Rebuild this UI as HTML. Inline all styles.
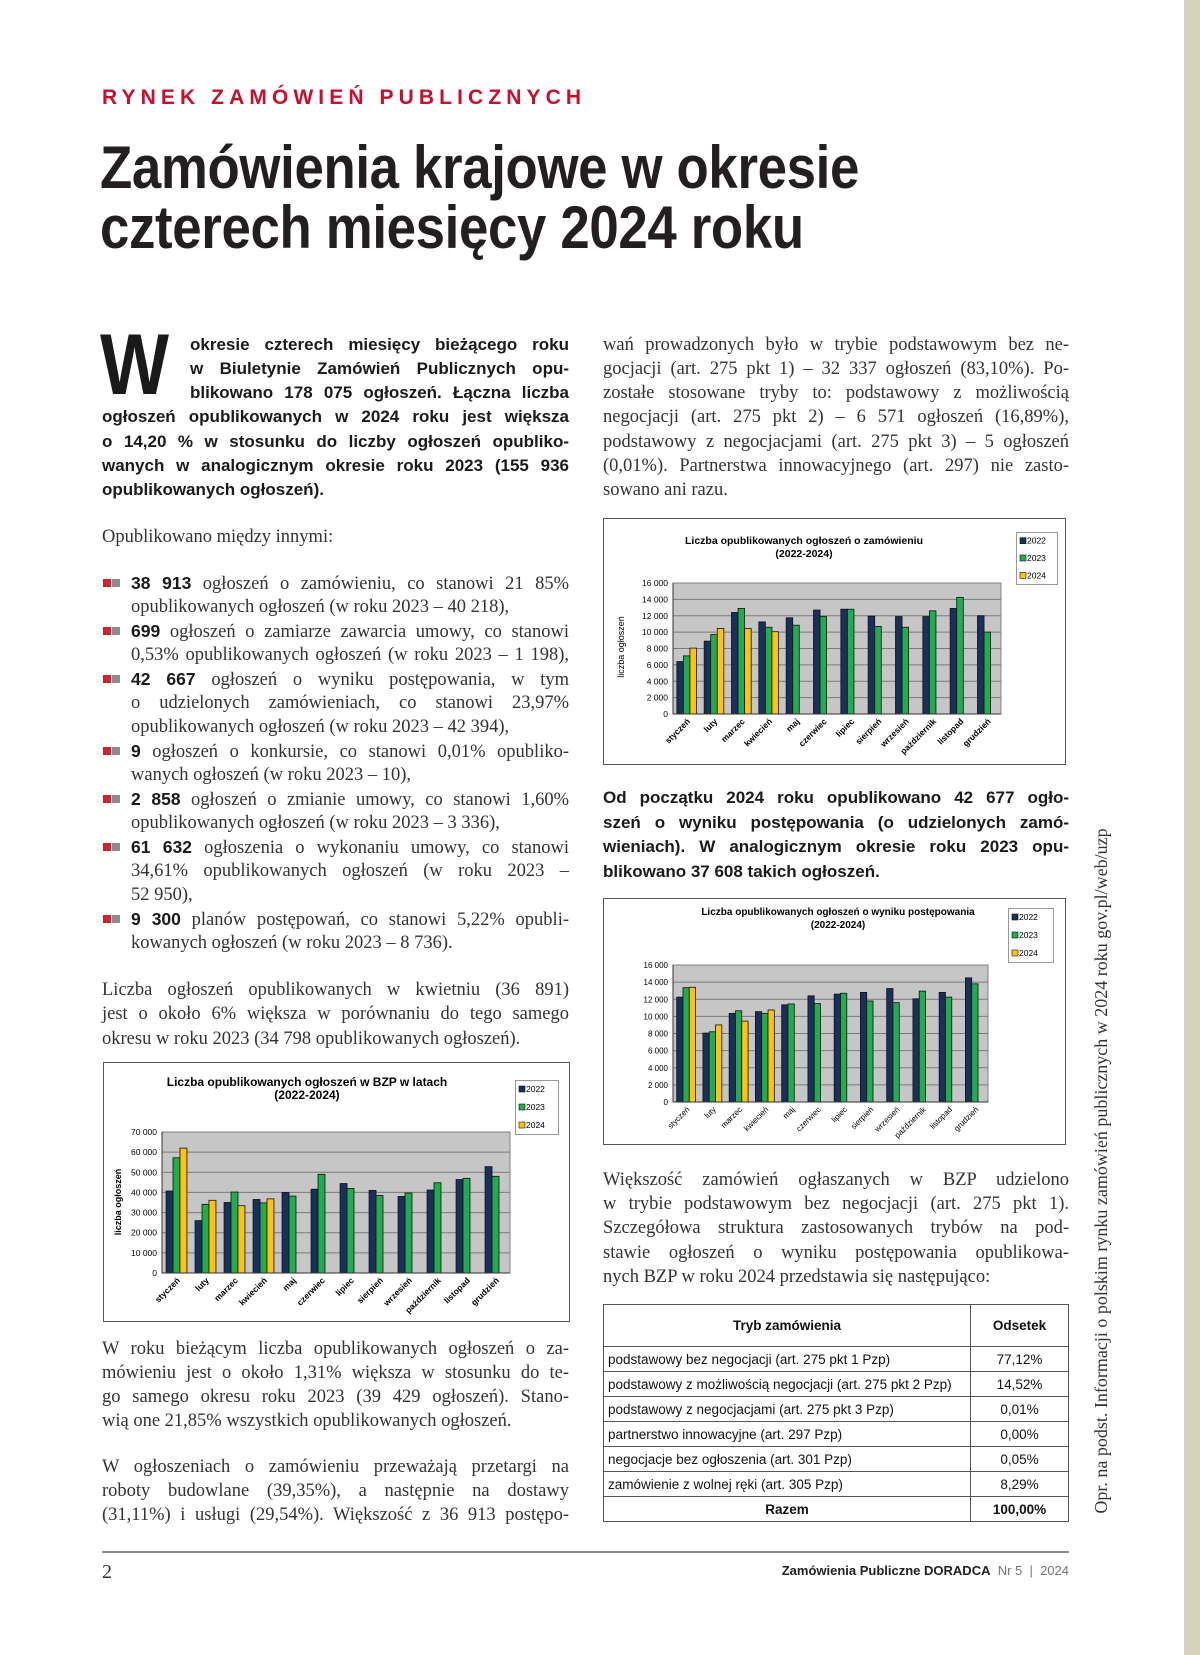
<!DOCTYPE html>
<html><head><meta charset="utf-8">
<style>
html,body{margin:0;padding:0}
body{width:1200px;height:1655px;position:relative;background:#fff;overflow:hidden;color:#2b2b2b}
.strip{position:absolute;left:1184px;top:0;width:16px;height:1655px;background:#d6d3bc}
.kick{position:absolute;left:102px;top:86px;font:bold 21px "Liberation Sans",sans-serif;letter-spacing:5.1px;color:#c8102e;white-space:nowrap}
.title{position:absolute;left:100px;top:138px;font:bold 60px/60px "Liberation Sans",sans-serif;color:#231f20;letter-spacing:-0.4px;transform:scaleX(0.88);transform-origin:0 0;white-space:nowrap}
.l{position:absolute;height:24px;line-height:24px;text-align:justify;text-align-last:justify;font-family:"Liberation Serif",serif;font-size:18.5px;color:#333}
.e{text-align-last:left}
.b{font-family:"Liberation Sans",sans-serif;font-weight:bold;font-size:17px;color:#1a1a1a}
.L{left:102px;width:467px}
.R{left:603px;width:466px}
.I{left:190px;width:379px}
.B{left:131px;width:438px}
.n{font-family:"Liberation Sans",sans-serif;font-weight:bold;font-size:17.5px;color:#1a1a1a}
.bul{position:absolute;left:103px;width:8px;height:8px;background:#d4202c}
.bul:after{content:"";position:absolute;left:9px;top:0;width:8px;height:8px;background:#8c8c8c}
.cap{position:absolute;left:100px;top:322px;font:bold 86px/86px "Liberation Sans",sans-serif;color:#1a1a1a;transform:scaleX(0.85);transform-origin:0 0}
table{position:absolute;left:603px;top:1304px;width:466px;border-collapse:collapse;font-family:"Liberation Sans",sans-serif;font-size:13.5px;color:#111}
td{border:1px solid #555;height:24px;padding:0 0 0 4px;white-space:nowrap}
td.p{text-align:center;padding:0}
.vert{position:absolute;left:753px;top:1159px;width:700px;height:24px;line-height:24px;text-align:center;transform:rotate(-90deg);font:18px "Liberation Serif",serif;color:#333;white-space:nowrap}
svg{position:absolute;left:0;top:0}
svg text{font-family:"Liberation Sans",sans-serif}
</style></head><body>
<div class="strip"></div>
<div class="kick">RYNEK ZAMÓWIEŃ PUBLICZNYCH</div>
<div class="title">Zamówienia krajowe w okresie<br>czterech miesięcy 2024 roku</div>

<div class="cap">W</div>
<div class="l b I" style="top:333px">okresie czterech miesięcy bieżącego roku</div>
<div class="l b I" style="top:357px">w Biuletynie Zamówień Publicznych opu-</div>
<div class="l b I" style="top:381px">blikowano 178 075 ogłoszeń. Łączna liczba</div>
<div class="l b L" style="top:405px">ogłoszeń opublikowanych w 2024 roku jest większa</div>
<div class="l b L" style="top:430px">o 14,20 % w stosunku do liczby ogłoszeń opubliko-</div>
<div class="l b L" style="top:454px">wanych w analogicznym okresie roku 2023 (155 936</div>
<div class="l b L e" style="top:478px">opublikowanych ogłoszeń).</div>

<div class="l L e" style="top:525px">Opublikowano między innymi:</div>

<div class="bul" style="top:579px"></div>
<div class="l B" style="top:571px"><span class="n">38 913</span> ogłoszeń o zamówieniu, co stanowi 21 85%</div>
<div class="l B e" style="top:595px">opublikowanych ogłoszeń (w roku 2023 – 40 218),</div>
<div class="bul" style="top:627px"></div>
<div class="l B" style="top:619px"><span class="n">699</span> ogłoszeń o zamiarze zawarcia umowy, co stanowi</div>
<div class="l B" style="top:643px">0,53% opublikowanych ogłoszeń (w roku 2023 – 1 198),</div>
<div class="bul" style="top:675px"></div>
<div class="l B" style="top:667px"><span class="n">42 667</span> ogłoszeń o wyniku postępowania, w tym</div>
<div class="l B" style="top:691px">o udzielonych zamówieniach, co stanowi 23,97%</div>
<div class="l B e" style="top:715px">opublikowanych ogłoszeń (w roku 2023 – 42 394),</div>
<div class="bul" style="top:747px"></div>
<div class="l B" style="top:739px"><span class="n">9</span> ogłoszeń o konkursie, co stanowi 0,01% opubliko-</div>
<div class="l B e" style="top:763px">wanych ogłoszeń (w roku 2023 – 10),</div>
<div class="bul" style="top:795px"></div>
<div class="l B" style="top:787px"><span class="n">2 858</span> ogłoszeń o zmianie umowy, co stanowi 1,60%</div>
<div class="l B e" style="top:811px">opublikowanych ogłoszeń (w roku 2023 – 3 336),</div>
<div class="bul" style="top:843px"></div>
<div class="l B" style="top:835px"><span class="n">61 632</span> ogłoszenia o wykonaniu umowy, co stanowi</div>
<div class="l B" style="top:859px">34,61% opublikowanych ogłoszeń (w roku 2023 –</div>
<div class="l B e" style="top:883px">52 950),</div>
<div class="bul" style="top:915px"></div>
<div class="l B" style="top:907px"><span class="n">9 300</span> planów postępowań, co stanowi 5,22% opubli-</div>
<div class="l B e" style="top:931px">kowanych ogłoszeń (w roku 2023 – 8 736).</div>

<div class="l L" style="top:978px">Liczba ogłoszeń opublikowanych w kwietniu (36 891)</div>
<div class="l L" style="top:1002px">jest o około 6% większa w porównaniu do tego samego</div>
<div class="l L e" style="top:1027px">okresu w roku 2023 (34 798 opublikowanych ogłoszeń).</div>

<div class="l L" style="top:1337px">W roku bieżącym liczba opublikowanych ogłoszeń o za-</div>
<div class="l L" style="top:1361px">mówieniu jest o około 1,31% większa w stosunku do te-</div>
<div class="l L" style="top:1385px">go samego okresu roku 2023 (39 429 ogłoszeń). Stano-</div>
<div class="l L e" style="top:1409px">wią one 21,85% wszystkich opublikowanych ogłoszeń.</div>

<div class="l L" style="top:1455px">W ogłoszeniach o zamówieniu przeważają przetargi na</div>
<div class="l L" style="top:1479px">roboty budowlane (39,35%), a następnie na dostawy</div>
<div class="l L" style="top:1503px">(31,11%) i usługi (29,54%). Większość z 36 913 postępo-</div>

<div class="l R" style="top:333px">wań prowadzonych było w trybie podstawowym bez ne-</div>
<div class="l R" style="top:357px">gocjacji (art. 275 pkt 1) – 32 337 ogłoszeń (83,10%). Po-</div>
<div class="l R" style="top:381px">zostałe stosowane tryby to: podstawowy z możliwością</div>
<div class="l R" style="top:405px">negocjacji (art. 275 pkt 2) – 6 571 ogłoszeń (16,89%),</div>
<div class="l R" style="top:430px">podstawowy z negocjacjami (art. 275 pkt 3) – 5 ogłoszeń</div>
<div class="l R" style="top:454px">(0,01%). Partnerstwa innowacyjnego (art. 297) nie zasto-</div>
<div class="l R e" style="top:478px">sowano ani razu.</div>

<div class="l b R" style="top:786px">Od początku 2024 roku opublikowano 42 677 ogło-</div>
<div class="l b R" style="top:811px">szeń o wyniku postępowania (o udzielonych zamó-</div>
<div class="l b R" style="top:835px">wieniach). W analogicznym okresie roku 2023 opu-</div>
<div class="l b R e" style="top:860px">blikowano 37 608 takich ogłoszeń.</div>

<div class="l R" style="top:1168px">Większość zamówień ogłaszanych w BZP udzielono</div>
<div class="l R" style="top:1192px">w trybie podstawowym bez negocjacji (art. 275 pkt 1).</div>
<div class="l R" style="top:1216px">Szczegółowa struktura zastosowanych trybów na pod-</div>
<div class="l R" style="top:1241px">stawie ogłoszeń o wyniku postępowania opublikowa-</div>
<div class="l R e" style="top:1265px">nych BZP w roku 2024 przedstawia się następująco:</div>

<table>
<tr><td class="p" style="height:41px;font-weight:bold">Tryb zamówienia</td><td class="p" style="width:97px;font-weight:bold">Odsetek</td></tr>
<tr><td>podstawowy bez negocjacji (art. 275 pkt 1 Pzp)</td><td class="p">77,12%</td></tr>
<tr><td>podstawowy z możliwością negocjacji (art. 275 pkt 2 Pzp)</td><td class="p">14,52%</td></tr>
<tr><td>podstawowy z negocjacjami (art. 275 pkt 3 Pzp)</td><td class="p">0,01%</td></tr>
<tr><td>partnerstwo innowacyjne (art. 297 Pzp)</td><td class="p">0,00%</td></tr>
<tr><td>negocjacje bez ogłoszenia (art. 301 Pzp)</td><td class="p">0,05%</td></tr>
<tr><td>zamówienie z wolnej ręki (art. 305 Pzp)</td><td class="p">8,29%</td></tr>
<tr><td class="p" style="font-weight:bold">Razem</td><td class="p" style="font-weight:bold">100,00%</td></tr>
</table>

<div class="vert">Opr. na podst. Informacji o polskim rynku zamówień publicznych w 2024 roku gov.pl/web/uzp</div>

<div style="position:absolute;left:102px;top:1551px;width:967px;height:2px;background:#8a8a8a"></div>
<div style="position:absolute;left:102px;top:1561px;font:20px 'Liberation Serif',serif;color:#333">2</div>
<div style="position:absolute;right:131px;top:1563px;font:13px 'Liberation Sans',sans-serif;color:#777;white-space:nowrap"><b style="color:#222">Zamówienia Publiczne DORADCA</b> &nbsp;Nr 5 &nbsp;|&nbsp; 2024</div>

<svg id="ov" width="1200" height="1655" viewBox="0 0 1200 1655">
<rect x="603.5" y="518.5" width="462" height="246" fill="#fff" stroke="#555"/>
<text x="804" y="544" font-size="10.5" font-weight="bold" text-anchor="middle">Liczba opublikowanych ogłoszeń o zamówieniu</text>
<text x="804" y="557" font-size="10.5" font-weight="bold" text-anchor="middle">(2022-2024)</text>
<text transform="translate(624,647) rotate(-90)" font-size="9" text-anchor="middle">liczba ogłoszeń</text>
<g id="c1y" font-size="8.5" text-anchor="end"><text>0</text><text>2 000</text><text>4 000</text><text>6 000</text><text>8 000</text><text>10 000</text><text>12 000</text><text>14 000</text><text>16 000</text></g>
<g id="c1m" font-size="8.5" font-weight="bold" text-anchor="end"><text>styczeń</text><text>luty</text><text>marzec</text><text>kwiecień</text><text>maj</text><text>czerwiec</text><text>lipiec</text><text>sierpień</text><text>wrzesień</text><text>październik</text><text>listopad</text><text>grudzień</text></g>
<g id="c1l" font-size="8.5"><text>2022</text><text>2023</text><text>2024</text></g>
<rect x="603.5" y="898.5" width="462" height="246" fill="#fff" stroke="#555"/>
<text x="838" y="915" font-size="10" font-weight="bold" text-anchor="middle">Liczba opublikowanych ogłoszeń o wyniku postępowania</text>
<text x="838" y="928" font-size="10" font-weight="bold" text-anchor="middle">(2022-2024)</text>
<g id="c2y" font-size="8" text-anchor="end"><text>0</text><text>2 000</text><text>4 000</text><text>6 000</text><text>8 000</text><text>10 000</text><text>12 000</text><text>14 000</text><text>16 000</text></g>
<g id="c2m" font-size="8" text-anchor="end"><text>styczeń</text><text>luty</text><text>marzec</text><text>kwiecień</text><text>maj</text><text>czerwiec</text><text>lipiec</text><text>sierpień</text><text>wrzesień</text><text>październik</text><text>listopad</text><text>grudzień</text></g>
<g id="c2l" font-size="8.5"><text>2022</text><text>2023</text><text>2024</text></g>
<rect x="103.5" y="1062.5" width="466" height="259" fill="#fff" stroke="#555"/>
<text x="307" y="1086" font-size="12" font-weight="bold" text-anchor="middle">Liczba opublikowanych ogłoszeń w BZP w latach</text>
<text x="307" y="1099" font-size="12" font-weight="bold" text-anchor="middle">(2022-2024)</text>
<text transform="translate(121,1202) rotate(-90)" font-size="9" font-weight="bold" text-anchor="middle">liczba ogłoszeń</text>
<g id="c3y" font-size="8.5" text-anchor="end"><text>0</text><text>10 000</text><text>20 000</text><text>30 000</text><text>40 000</text><text>50 000</text><text>60 000</text><text>70 000</text></g>
<g id="c3m" font-size="8.5" font-weight="bold" text-anchor="end"><text>styczeń</text><text>luty</text><text>marzec</text><text>kwiecień</text><text>maj</text><text>czerwiec</text><text>lipiec</text><text>sierpień</text><text>wrzesień</text><text>październik</text><text>listopad</text><text>grudzień</text></g>
<g id="c3l" font-size="8.5"><text>2022</text><text>2023</text><text>2024</text></g>
</svg>

<script>
(function(){
var NS="http://www.w3.org/2000/svg",svg=document.getElementById('ov');
var cols=["#1b2f5c","#1eae4e","#ffc20e"];
function chart(c){
  var x0=c.x0,x1=c.x1,y0=c.y0,y1=c.y1,h=y1-y0,n=c.max/c.step;
  var front=document.createElementNS(NS,'g');svg.appendChild(front);
  function add(t,a){var e=document.createElementNS(NS,t);for(var k in a)e.setAttribute(k,a[k]);front.appendChild(e);return e;}
  add('rect',{x:x0,y:y0,width:x1-x0,height:h,fill:"#c6c6c6",stroke:"#808080"});
  for(var i=1;i<n;i++){var y=y0+h*i/n;add('line',{x1:x0,x2:x1,y1:y,y2:y,stroke:"#7a7a7a","stroke-width":1});}
  var gw=(x1-x0)/12,bw=gw*0.24,off=(gw-3*bw)/2;
  c.d.forEach(function(g,i){g.forEach(function(v,j){var bh=h*v/c.max;
    add('rect',{x:x0+i*gw+off+j*bw,y:y1-bh,width:bw,height:bh,fill:cols[j],stroke:"#111","stroke-width":0.8});});});
  add('line',{x1:x0,x2:x1,y1:y1,y2:y1,stroke:"#333"});
  add('line',{x1:x0,x2:x0,y1:y0,y2:y1,stroke:"#333"});
  var ys=document.getElementById(c.id+'y').children;
  for(var k=0;k<ys.length;k++){ys[k].setAttribute('x',x0-5);ys[k].setAttribute('y',y1-h*k/n+3);}
  var ms=document.getElementById(c.id+'m').children;
  for(var k=0;k<ms.length;k++){ms[k].setAttribute('transform','translate('+(x0+(k+0.5)*gw+4)+','+(y1+8)+') rotate(-45)');}
  var lg=c.lg;add('rect',{x:lg[0]+.5,y:lg[1]+.5,width:lg[2]-lg[0],height:lg[3]-lg[1],fill:"#fff",stroke:"#999"});
  var ls=document.getElementById(c.id+'l').children,st=(lg[3]-lg[1])/3;
  for(var k=0;k<3;k++){var cy=lg[1]+st*(k+0.5);
    add('rect',{x:lg[0]+4,y:cy-3,width:6,height:6,fill:cols[k],stroke:"#111","stroke-width":0.6});
    ls[k].setAttribute('x',lg[0]+11);ls[k].setAttribute('y',cy+3);}
  ['y','m','l'].forEach(function(s){front.appendChild(document.getElementById(c.id+s));});
}
chart({id:'c1',x0:673,x1:1001,y0:583,y1:714,max:16000,step:2000,lg:[1016,532,1057,584],
 d:[[6400,7100,8050],[8900,9700,10450],[12400,12900,10450],[11250,10600,10050],[11750,10850],[12700,11900],[12800,12800],[11950,10700],[11900,10600],[11900,12600],[12900,14250],[12000,10000]]});
chart({id:'c2',x0:673,x1:988,y0:965,y1:1102,max:16000,step:2000,lg:[1008,908,1053,962],
 d:[[12250,13350,13400],[8050,8200,9000],[10350,10650,9450],[10550,10350,10750],[11350,11450],[12400,11500],[12600,12700],[12800,11800],[13250,11600],[12050,12950],[12800,12250],[14500,13800]]});
chart({id:'c3',x0:162,x1:510,y0:1132,y1:1273,max:70000,step:10000,lg:[515,1080,558,1134],
 d:[[40700,57200,62000],[26000,34100,36100],[35000,40200,33400],[36500,34800,36800],[40000,38200],[41600,49000],[44400,42000],[41000,38500],[38000,39700],[41200,44800],[46400,47000],[52800,48000]]});
})();
</script>
</body></html>
